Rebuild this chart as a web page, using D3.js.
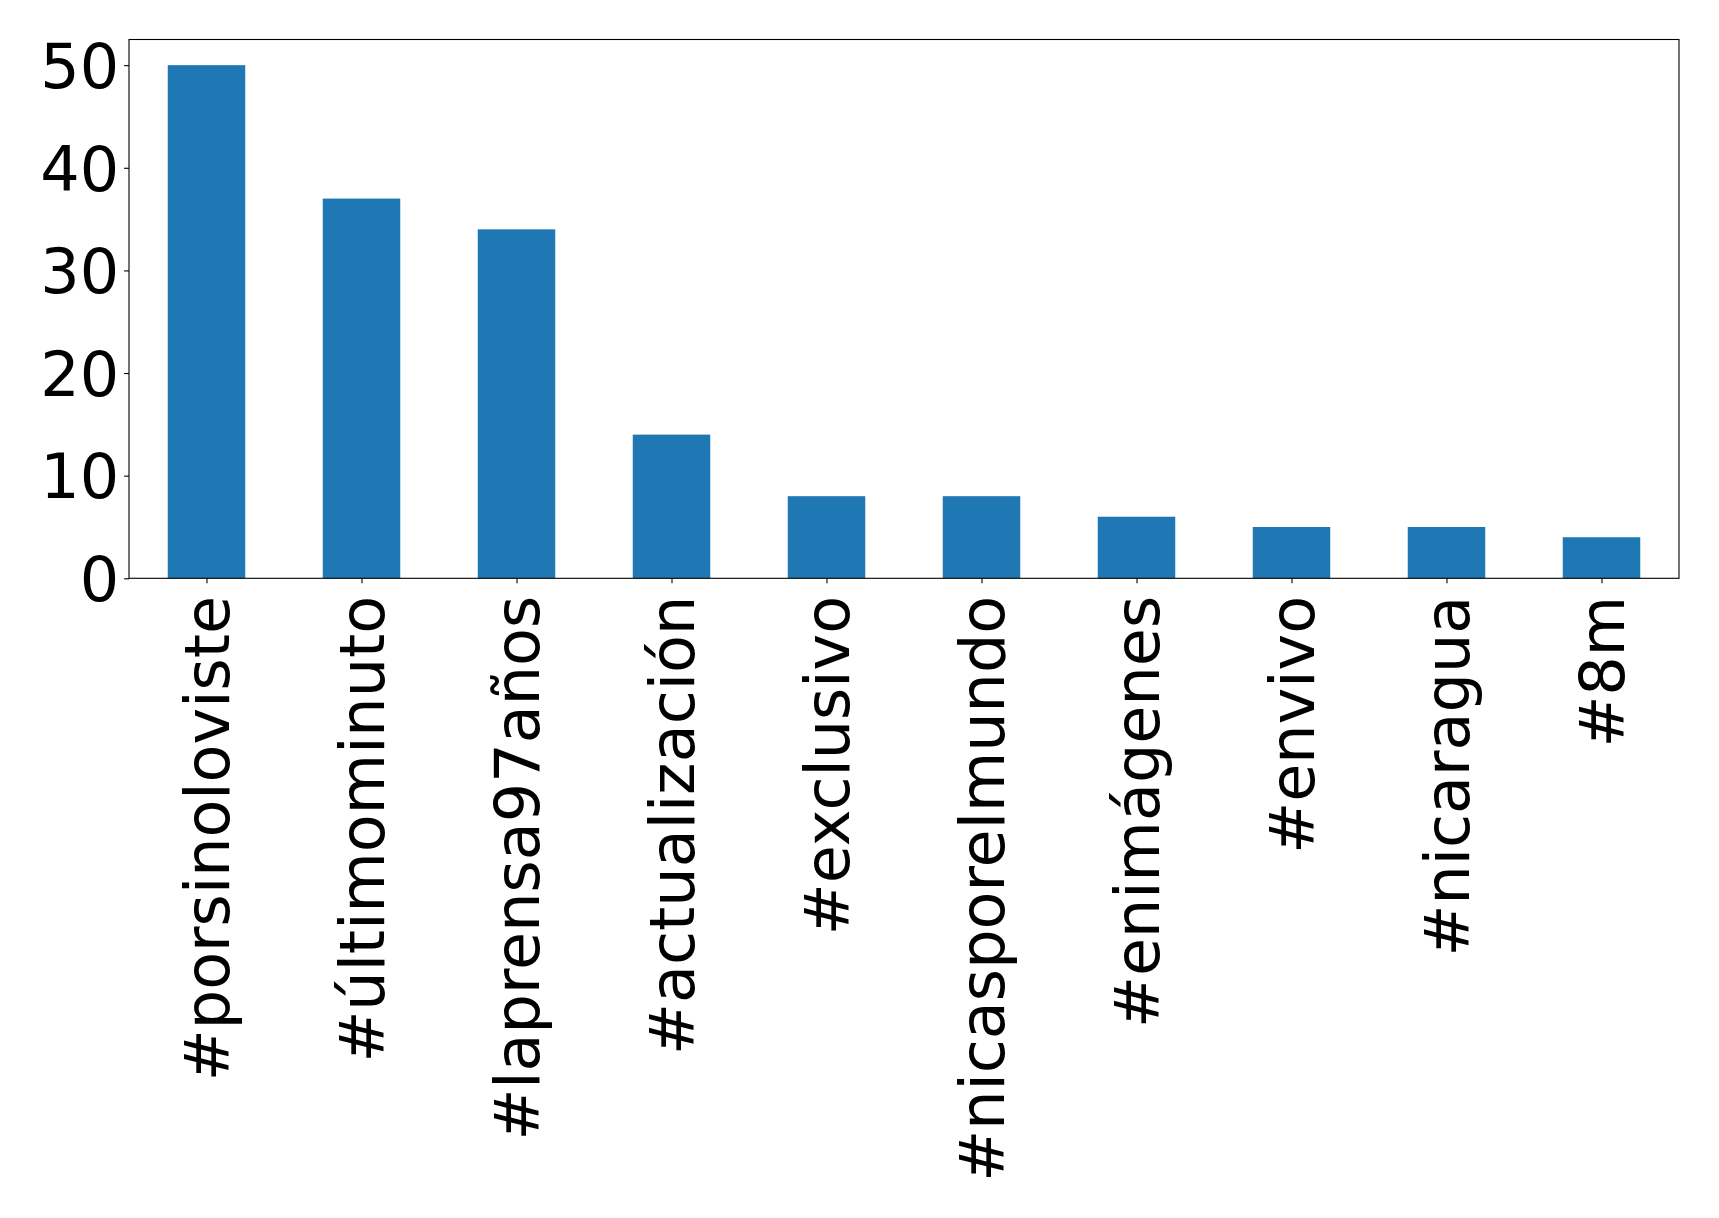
<!DOCTYPE html>
<html>
<head>
<meta charset="utf-8">
<script src="https://cdn.jsdelivr.net/npm/d3@7"></script>
<style>
html,body{margin:0;padding:0;background:#fff;}
svg{display:block;}
</style>
</head>
<body>
<script>
const categories = ["#porsinoloviste","#últimominuto","#laprensa97años","#actualización","#exclusivo","#nicasporelmundo","#enimágenes","#envivo","#nicaragua","#8m"];
const values = [50, 37, 34, 14, 8, 8, 6, 5, 5, 4];
const yTicks = [0, 10, 20, 30, 40, 50];

const W = 1719, H = 1218;
const m = {left: 129, top: 39.5, right: 1679, bottom: 578.3};
const fontSize = 62;
const tickLen = 4.9, pad = 4.9, xLabelOffset = 17.5;

const svg = d3.select("body").append("svg").attr("width", W).attr("height", H)
  .style("font-family", "'DejaVu Sans', sans-serif");

const x = d3.scaleLinear().domain([-0.5, categories.length - 0.5]).range([m.left, m.right]);
const y = d3.scaleLinear().domain([0, 52.5]).range([m.bottom, m.top]);
const step = x(1) - x(0);
const bw = step * 0.5;

svg.append("g").selectAll("rect").data(values).join("rect")
  .attr("x", (d, i) => x(i) - bw / 2)
  .attr("y", d => y(d))
  .attr("width", bw)
  .attr("height", d => y(0) - y(d))
  .attr("fill", "#1f77b4");

// frame
svg.append("rect").attr("x", m.left).attr("y", m.top)
  .attr("width", m.right - m.left).attr("height", m.bottom - m.top)
  .attr("fill", "none").attr("stroke", "#000").attr("stroke-width", 1.1);

// y axis
const yAxis = d3.axisLeft(y).tickValues(yTicks).tickSize(tickLen).tickPadding(pad).tickFormat(d3.format("d"));
const gy = svg.append("g").attr("transform", `translate(${m.left},0)`).call(yAxis);
gy.select(".domain").remove();
gy.selectAll(".tick line").attr("stroke", "#000").attr("stroke-width", 1.1);
gy.selectAll(".tick text").attr("font-size", fontSize).attr("fill", "#000")
  .attr("font-family", "'DejaVu Sans', sans-serif").attr("dy", "0.36em");

// x axis
const xAxis = d3.axisBottom(x).tickValues(d3.range(categories.length)).tickSize(tickLen).tickFormat(i => categories[i]);
const gx = svg.append("g").attr("transform", `translate(0,${m.bottom})`).call(xAxis);
gx.select(".domain").remove();
gx.selectAll(".tick line").attr("stroke", "#000").attr("stroke-width", 1.1);
gx.selectAll(".tick text")
  .attr("font-size", fontSize).attr("fill", "#000")
  .attr("font-family", "'DejaVu Sans', sans-serif")
  .attr("text-anchor", "end")
  .attr("dy", null)
  .attr("y", 0)
  .attr("dominant-baseline", "central")
  .attr("transform", `translate(0,${xLabelOffset}) rotate(-90)`);
</script>
</body>
</html>
